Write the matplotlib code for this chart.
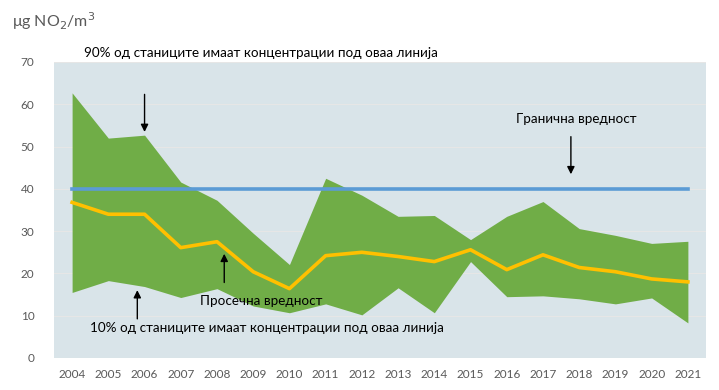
import matplotlib
matplotlib.use('Agg')
import matplotlib.pyplot as plt
import numpy as np

plt.rcParams['font.family'] = ['Lato', 'DejaVu Sans']

years = ['2004', '2005', '2006', '2007', '2008', '2009', '2010', '2011', '2012',
         '2013', '2014', '2015', '2016', '2017', '2018', '2019', '2020', '2021']
# 90th percentile of stations
p90 = [62.7, 52.0, 52.7, 41.6, 37.3, 29.5, 22.1, 42.5, 38.5,
       33.5, 33.7, 28.0, 33.5, 37.0, 30.6, 29.0, 27.1, 27.6]
# 10th percentile of stations
p10 = [15.5, 18.3, 16.9, 14.3, 16.4, 12.3, 10.7, 12.8, 10.2,
       16.6, 10.7, 22.8, 14.5, 14.7, 14.0, 12.8, 14.2, 8.3]
# average
mean = [36.8, 34.0, 34.0, 26.1, 27.5, 20.4, 16.4, 24.2, 25.0,
        24.0, 22.8, 25.6, 20.9, 24.4, 21.4, 20.4, 18.7, 18.0]
limit_value = 40

x = np.arange(len(years))

fig = plt.figure(figsize=(7.19, 3.90), dpi=100)
ax = fig.add_axes([54/719, 32/390, 652/719, 296/390])
ax.set_facecolor('#d9e4e9')

ax.fill_between(x, p10, p90, color='#70ad47', linewidth=0, zorder=2)
ax.plot(x, [limit_value] * len(x), color='#5b9bd5', linewidth=2.6, zorder=3)
ax.plot(x, mean, color='#ffc000', linewidth=2.6, zorder=4)

ax.set_xlim(-0.5, len(years) - 0.5)
ax.set_ylim(0, 70)
ax.set_yticks(range(0, 71, 10))
ax.set_xticks(x)
ax.set_xticklabels(years)
ax.grid(axis='y', color='#e6e6e6', linewidth=0.8, zorder=1)
ax.set_axisbelow(True)
for s in ax.spines.values():
    s.set_visible(False)
ax.tick_params(length=0, labelsize=8.5, colors='#595959', pad=8)
ax.tick_params(axis='y', pad=14)

fig.text(12/719, 1 - 21/390, r'$\mathregular{\mu}$g NO$_2$/m$^3$', fontsize=11.5, color='#595959',
         va='center', ha='left')

arrow = dict(arrowstyle='-|>', color='black', lw=1, mutation_scale=11)
fs = 9.7

fig.text(84/719, 1 - 53/390, '90% од станиците имаат концентрации под оваа линија',
         fontsize=fs, ha='left', va='center')
ax.annotate('', xy=(2.0, 52.8), xytext=(2.0, 63.0), arrowprops=arrow, annotation_clip=False)

ax.text(13.93, 56.5, 'Гранична вредност', fontsize=fs, ha='center', va='center')
ax.annotate('', xy=(13.77, 42.8), xytext=(13.77, 53.0), arrowprops=arrow)

ax.text(5.23, 13.5, 'Просечна вредност', fontsize=fs, ha='center', va='center')
ax.annotate('', xy=(4.2, 25.3), xytext=(4.2, 17.2), arrowprops=arrow)

ax.text(0.5, 7.0, '10% од станиците имаат концентрации под оваа линија', fontsize=fs,
        ha='left', va='center')
ax.annotate('', xy=(1.8, 16.7), xytext=(1.8, 8.6), arrowprops=arrow)

fig.savefig('out.png', dpi=100)
